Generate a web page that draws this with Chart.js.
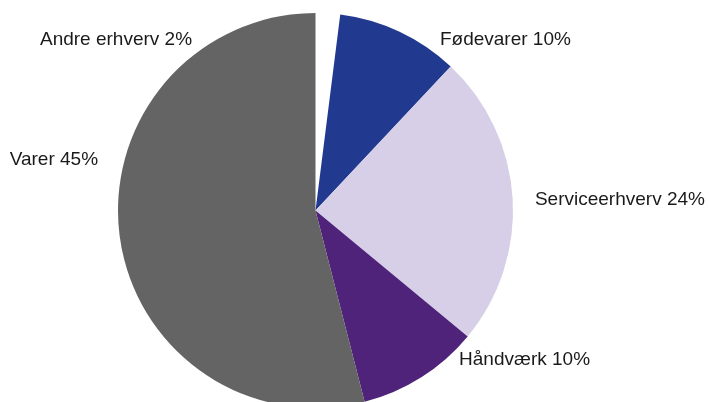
<!DOCTYPE html>
<html>
<head>
<meta charset="utf-8">
<script src="https://cdn.jsdelivr.net/npm/chart.js@4"></script>
<style>
  html, body { margin: 0; padding: 0; background: #ffffff; overflow: hidden; width: 709px; height: 402px; }
  canvas { display: block; }
</style>
</head>
<body>
<canvas id="c" width="709" height="420"></canvas>
<script>
// Data (slice sizes), label texts as printed in the source
const categories = ["Andre erhverv", "Fødevarer", "Serviceerhverv", "Håndværk", "Varer"];
const values = [2, 10, 24, 10, 54];
const labelTexts = ["Andre erhverv 2%", "Fødevarer 10%", "Serviceerhverv 24%", "Håndværk 10%", "Varer 45%"];
const colors = ["#ffffff", "#21398f", "#d6cfe7", "#4f2379", "#646464"];

// label anchor placement relative to pie centre, in units of the radius
const labelPlacement = [
  { dx: -0.625, dy: -0.863, align: "right" },
  { dx: 0.630, dy: -0.863, align: "left" },
  { dx: 1.111, dy: -0.053, align: "left" },
  { dx: 0.727, dy: 0.757, align: "left" },
  { dx: -1.101, dy: -0.258, align: "right" }
];

const labelPlugin = {
  id: "sliceLabels",
  afterDatasetsDraw(chart) {
    const meta = chart.getDatasetMeta(0);
    const ctx = chart.ctx;
    ctx.save();
    ctx.font = "19px 'Liberation Sans', Arial, sans-serif";
    ctx.fillStyle = "#1a1a1a";
    ctx.textBaseline = "middle";
    meta.data.forEach((arc, i) => {
      const p = labelPlacement[i];
      const r = arc.outerRadius;
      ctx.textAlign = p.align;
      ctx.fillText(labelTexts[i], arc.x + p.dx * r, arc.y + p.dy * r);
    });
    ctx.restore();
  }
};

new Chart(document.getElementById("c"), {
  type: "pie",
  data: {
    labels: categories,
    datasets: [{
      data: values,
      backgroundColor: colors,
      borderWidth: 0
    }]
  },
  options: {
    responsive: false,
    animation: false,
    layout: { padding: { top: 13, bottom: 12, left: 0, right: 78 } },
    plugins: {
      legend: { display: false },
      tooltip: { enabled: false }
    }
  },
  plugins: [labelPlugin]
});
</script>
</body>
</html>
